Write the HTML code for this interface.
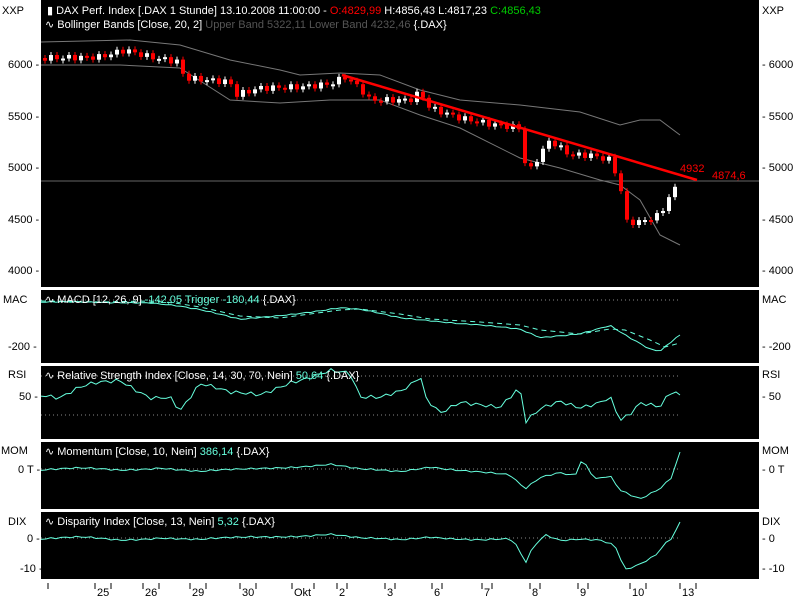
<!DOCTYPE html>
<html><head><meta charset="utf-8"><style>
body{margin:0;background:#fff;width:800px;height:600px;overflow:hidden;font-family:"Liberation Sans",sans-serif}
svg text{font-family:"Liberation Sans",sans-serif;font-size:11px}
</style></head><body>
<svg id="s" width="800" height="600" xmlns="http://www.w3.org/2000/svg">
<rect width="800" height="600" fill="#fff"/>
<rect x="41" y="0" width="718" height="287" fill="#000"/>
<rect x="41" y="290" width="718" height="73" fill="#000"/>
<rect x="41" y="366" width="718" height="73" fill="#000"/>
<rect x="41" y="442" width="718" height="67" fill="#000"/>
<rect x="41" y="512" width="718" height="67" fill="#000"/>
<g fill="#000">
<text x="2" y="14">XXP</text><text x="762" y="14">XXP</text>
<text x="8" y="68">6000 -</text><text x="8" y="120">5500 -</text><text x="8" y="171">5000 -</text><text x="8" y="223">4500 -</text><text x="8" y="274">4000 -</text>
<text x="762" y="68">- 6000</text><text x="762" y="120">- 5500</text><text x="762" y="171">- 5000</text><text x="762" y="223">- 4500</text><text x="762" y="274">- 4000</text>
<text x="3" y="303">MAC</text><text x="762" y="303">MAC</text>
<text x="8" y="350">-200 -</text><text x="762" y="350">- -200</text>
<text x="8" y="378">RSI</text><text x="762" y="378">RSI</text>
<text x="19" y="400">50 -</text><text x="762" y="400">- 50</text>
<text x="1" y="454">MOM</text><text x="762" y="454">MOM</text>
<text x="18" y="473">0 T -</text><text x="762" y="473">- 0 T</text>
<text x="8" y="525">DIX</text><text x="762" y="525">DIX</text>
<text x="27" y="542">0 -</text><text x="762" y="542">- 0</text>
<text x="20" y="572">-10 -</text><text x="762" y="572">- -10</text>
</g>
<g id="xl" fill="#000"></g>
<g id="main"></g>
<text x="47" y="14" fill="#fff">▮ DAX Perf. Index [.DAX  1 Stunde] 13.10.2008 11:00:00 - <tspan fill="#f00">O:4829,99</tspan> H:4856,43 L:4817,23 <tspan fill="#0c0">C:4856,43</tspan></text>
<text x="45" y="28" fill="#fff">∿ Bollinger Bands [Close, 20, 2] <tspan fill="#555">Upper Band 5322,11 Lower Band 4232,46</tspan> {.DAX}</text>
<text x="45" y="303" fill="#fff">∿ MACD [12, 26, 9] <tspan fill="#6fd">-142,05 Trigger -180,44</tspan> {.DAX}</text>
<text x="45" y="379" fill="#fff">∿ Relative Strength Index [Close, 14, 30, 70, Nein] <tspan fill="#6fd">50,64</tspan> {.DAX}</text>
<text x="45" y="455" fill="#fff">∿ Momentum [Close, 10, Nein] <tspan fill="#6fd">386,14</tspan> {.DAX}</text>
<text x="45" y="525" fill="#fff">∿ Disparity Index [Close, 13, Nein] <tspan fill="#6fd">5,32</tspan> {.DAX}</text>
<text x="680" y="172" fill="#f00">4932</text>
<text x="712" y="179" fill="#f00">4874,6</text>
</svg>
<script>
const NS="http://www.w3.org/2000/svg",s=document.getElementById('s'),m=document.getElementById('main');
function el(t,a,p){const e=document.createElementNS(NS,t);for(const k in a)e.setAttribute(k,a[k]);(p||s).appendChild(e);return e}
function pl(pts,c,extra){el('polyline',Object.assign({points:pts.map(p=>p.join(',')).join(' '),fill:'none',stroke:c,'stroke-width':1},extra||{}),m)}
function interp(pts,x){for(let i=0;i<pts.length-1;i++){if(x>=pts[i][0]&&x<=pts[i+1][0]){const t=(x-pts[i][0])/(pts[i+1][0]-pts[i][0]);return pts[i][1]+t*(pts[i+1][1]-pts[i][1])}}return pts[pts.length-1][1]}
function jag(pts,amp,step){const o=[];const x0=pts[0][0],x1=pts[pts.length-1][0];for(let x=x0;x<x1;x+=step){o.push([x,+(interp(pts,x)+amp*(Math.sin(x*1.3)+0.6*Math.sin(x*0.47))).toFixed(1)])}o.push(pts[pts.length-1]);return o}
[[48,""],[95,"25"],[143,"26"],[190,"29"],[240,"30"],[292,"Okt"],[337,"2"],[385,"3"],[432,"6"],[482,"7"],[530,"8"],[578,"9"],[630,"10"],[680,"13"]].forEach(([x,t])=>{
 el('line',{x1:x,y1:583,x2:x,y2:589,stroke:'#000'});
 if(t){const w=t.length*6;el('text',{x:x+2,y:596},document.getElementById('xl')).textContent=t;el('line',{x1:x+4+w,y1:583,x2:x+4+w,y2:589,stroke:'#000'})}
});
[[300],[376],[415],[469],[538]].forEach(([y])=>el('line',{x1:41,y1:y,x2:680,y2:y,stroke:'#888','stroke-dasharray':'1,3'},m));
el('line',{x1:41,y1:181,x2:759,y2:181,stroke:'#666'},m);
pl([[41,42],[130,40],[180,45],[230,60],[280,70],[300,75],[340,73],[380,75],[420,90],[460,100],[520,105],[580,112],[620,125],[640,120],[660,120],[680,135]],'#777');
pl([[41,65],[120,65],[180,68],[230,100],[280,103],[330,100],[380,100],[420,115],[460,128],[520,158],[560,168],[600,180],[620,185],[640,200],[660,235],[680,245]],'#777');
const cl=[[45,58],[100,57],[125,50],[150,57],[180,62],[184,78],[230,82],[236,95],[260,88],[300,87],[330,84],[345,77],[360,88],[370,100],[410,100],[420,92],[430,108],[460,118],[490,124],[520,128],[527,176],[535,162],[550,140],[570,155],[590,155],[610,160],[620,183],[625,222],[640,222],[660,215],[670,195],[680,183]];
let prev=interp(cl,45);
for(let x=45;x<=680;x+=6){const c=interp(cl,x)+(Math.sin(x*1.7)*3);const o=prev;const top=Math.min(o,c),h=Math.max(2,Math.abs(c-o));const red=c>o;
 el('line',{x1:x,y1:top-3,x2:x,y2:top+h+3,stroke:red?'#f00':'#fff'},m);
 el('rect',{x:x-2,y:top,width:4,height:h,fill:red?'#f00':'#fff'},m);prev=c}
el('line',{x1:342,y1:75,x2:697,y2:180,stroke:'#f00','stroke-width':2.5},m);
const cy='#6fd';
pl(jag([[41,302],[100,303],[150,302],[175,305],[200,310],[240,320],[280,315],[340,308],[360,310],[400,318],[430,320],[480,325],[520,330],[540,338],[580,333],[610,325],[625,335],[650,350],[660,352],[680,335]],0.8,5),cy);
pl([[41,301],[100,302],[150,301],[175,303],[200,307],[240,316],[280,318],[340,310],[360,309],[400,314],[430,319],[480,322],[520,325],[540,330],[580,334],[610,329],[625,330],[650,340],[665,347],[680,343]],cy,{'stroke-dasharray':'5,4'});
pl(jag([[41,395],[60,400],[80,390],[95,385],[120,380],[150,395],[170,395],[180,410],[200,385],[230,395],[260,395],[290,380],[330,370],[350,375],[360,400],[380,400],[400,392],[410,385],[415,380],[420,372],[425,395],[440,410],[460,400],[480,405],[500,410],[520,390],[525,425],[540,410],[560,400],[580,405],[600,400],[610,395],[620,420],[630,415],[640,405],[660,410],[670,395],[680,395]],3,5),cy);
pl(jag([[41,470],[80,469],[120,470],[160,467],[200,472],[240,470],[280,467],[330,464],[360,470],[400,472],[430,466],[480,472],[510,476],[525,490],[540,478],[560,472],[575,475],[582,458],[595,478],[610,475],[620,490],[640,500],[660,490],[672,478],[680,452]],1.2,5),cy);
pl(jag([[41,539],[80,538],[120,540],[160,537],[200,540],[240,538],[280,536],[330,534],[360,539],[400,540],[430,536],[480,540],[510,540],[518,548],[525,565],[533,548],[545,535],[560,540],[580,538],[600,539],[615,545],[625,570],[640,565],[655,557],[665,545],[673,538],[680,522]],1.2,5),cy);
</script>
</body></html>
